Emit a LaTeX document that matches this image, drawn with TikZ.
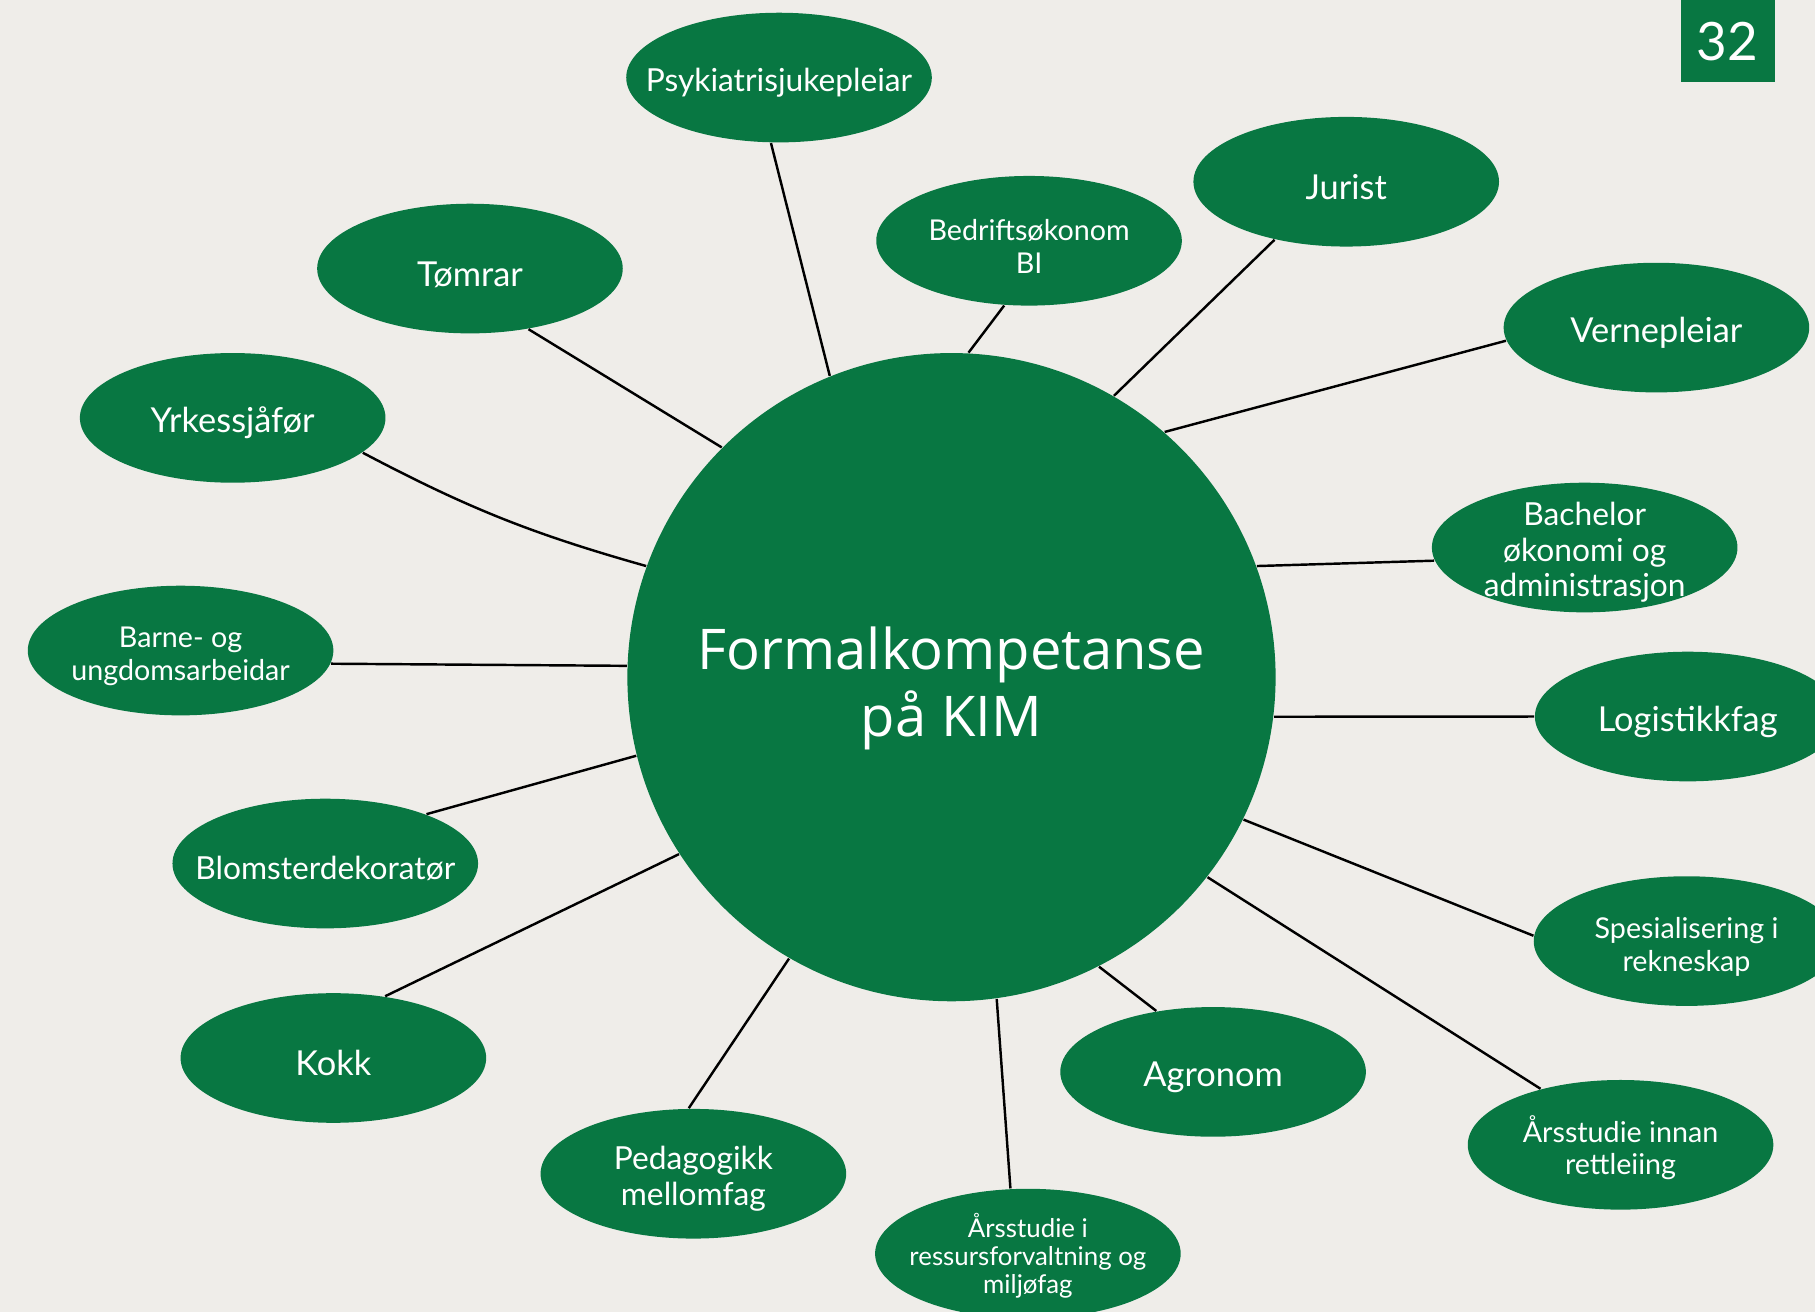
\documentclass[tikz,border=0pt]{standalone}
\usepackage{fontspec}
\setmainfont{Lato}
\newfontfamily\hubfont{Open Sans}
\usetikzlibrary{shapes.geometric}
\definecolor{kimgreen}{HTML}{087742}
\definecolor{paper}{HTML}{EFEDE9}

\begin{document}
\begin{tikzpicture}
    [
        course/.style = {
                ellipse,
                fill=kimgreen,
                text=white,
                minimum width=26.4mm,
                minimum height=11.2mm,
                inner xsep=-3mm,
                inner ysep=-1.5mm,
                align=center
            },
        hubnode/.style = {
                circle,
                fill=kimgreen,
                text=white,
                minimum size=56mm,
                align=center,
                text height=32.6pt,
                font=\hubfont\fontsize{13.8}{16.6}\selectfont
            },
        bigtext/.style = {font=\fontsize{8.45}{10}\selectfont, text height=8.9pt},
        midtext/.style = {font=\fontsize{7.8}{8.7}\selectfont, text height=8.2pt},
        smalltext/.style = {font=\fontsize{7.05}{8}\selectfont, text height=16pt},
        tinytext/.style = {font=\fontsize{6.35}{7}\selectfont, text height=21pt},
        link/.style = {draw=black, line width=0.6pt},
    ]

    \useasboundingbox (0,0) rectangle (15.68,11.33);
    \fill[paper] (0,0) rectangle (15.68,11.33);
    \clip (0,0) rectangle (15.68,11.33);

    % centre
    \node [hubnode] (hub) at (8.22,5.48) {Formalkompetanse\\på KIM};

    % courses, clockwise from the top
    \node [course, midtext]   (psyk)      at (6.73,10.66) {Psykiatrisjukepleiar};
    \node [course, smalltext] (bedrift)   at (8.89,9.25)  {Bedriftsøkonom\\BI};
    \node [course, bigtext]   (jurist)    at (11.63,9.76) {Jurist};
    \node [course, bigtext]   (verne)     at (14.31,8.50) {Vernepleiar};
    \node [course, midtext, text height=25.6pt] (bachelor) at (13.69,6.60) {Bachelor\\økonomi og\\administrasjon};
    \node [course, bigtext]   (logistikk) at (14.58,5.14) {Logistikkfag};
    \node [course, smalltext] (spesial)   at (14.57,3.20) {Spesialisering i\\rekneskap};
    \node [course, smalltext] (aarsinnan) at (14.00,1.44) {Årsstudie innan\\rettleiing};
    \node [course, bigtext]   (agronom)   at (10.48,2.07) {Agronom};
    \node [course, tinytext]  (ress)      at (8.88,0.50)  {Årsstudie i\\ressursforvaltning og\\miljøfag};
    \node [course, midtext, text height=16.9pt] (pedagog) at (5.99,1.19) {Pedagogikk\\mellomfag};
    \node [course, bigtext]   (kokk)      at (2.88,2.19)  {Kokk};
    \node [course, midtext]   (blomster)  at (2.81,3.87)  {Blomsterdekoratør};
    \node [course, smalltext] (barne)     at (1.56,5.71)  {Barne- og\\ungdomsarbeidar};
    \node [course, bigtext]   (yrkes)     at (2.01,7.72)  {Yrkessjåfør};
    \node [course, bigtext]   (tomrar)    at (4.06,9.01)  {Tømrar};

    % page number
    \node [fill=kimgreen, text=white, minimum width=8.1mm, minimum height=7.1mm,
        inner sep=0pt, font=\fontsize{13}{15}\selectfont] (pageno) at (14.925,10.975) {32};

    \draw [link] (hub.112) -- (psyk.263);
    \draw [link] (hub.87)  -- (bedrift.249);
    \draw [link] (hub.60)  -- (jurist.219);
    \draw [link] (hub.49)  -- (verne.185);
    \draw [link] (hub.20)  -- (bachelor.185);
    \draw [link] (hub.-7)  -- (logistikk.180);
    \draw [link] (hub.-26) -- (spesial.178);
    \draw [link] (hub.-38) -- (aarsinnan.145);
    \draw [link] (hub.-63) -- (agronom.133);
    \draw [link] (hub.-82) -- (ress.105);
    \draw [link] (hub.240) -- (pedagog.94);
    \draw [link] (hub.213) -- (kokk.50);
    \draw [link] (hub.194) -- (blomster.26);
    \draw [link] (hub.178) -- (barne.-5);
    \draw [link] (hub.160) to [bend left=6] (yrkes.-15);
    \draw [link] (hub.135) -- (tomrar.-46);

\end{tikzpicture}
\end{document}
